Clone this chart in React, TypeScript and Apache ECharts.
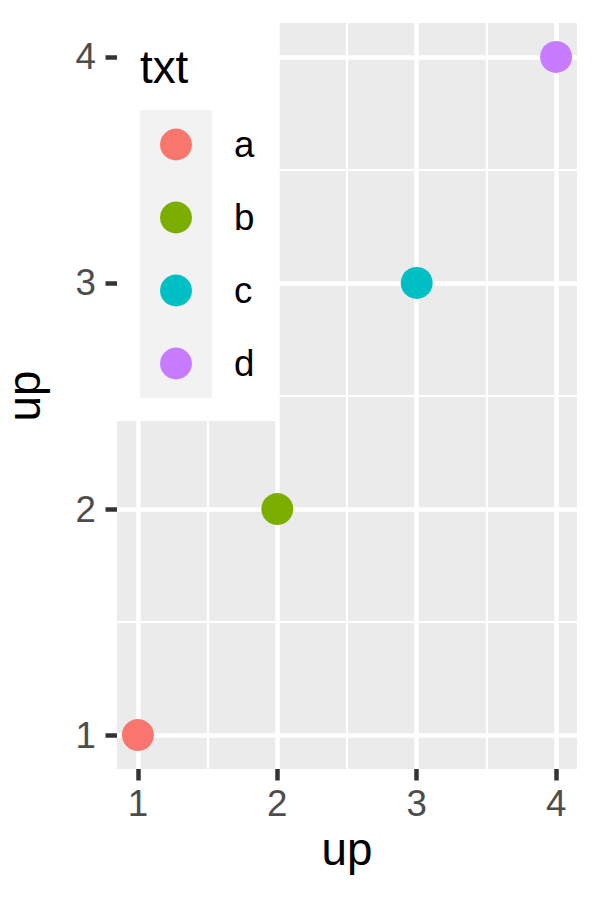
import React, { useEffect, useRef } from "react";
import * as echarts from "echarts";

const categories = ["a", "b", "c", "d"];
const xValues = [1, 2, 3, 4];
const yValues = [1, 2, 3, 4];
const colors = ["#F8766D", "#7CAE00", "#00BFC4", "#C77CFF"];
const majorTicks = [1, 2, 3, 4];
const minorTicks = [1.5, 2.5, 3.5];
const xTitle = "up";
const yTitle = "up";
const legendTitle = "txt";

const FONT = "'Liberation Sans', Arial, sans-serif";

export default function App() {
  const ref = useRef<HTMLDivElement>(null);
  useEffect(() => {
    if (!ref.current) return;
    const chart = echarts.init(ref.current, undefined, { renderer: "svg" });
    const gridPos = { left: 117, top: 23, width: 460, height: 746 };
    const baseAxis = (isX: boolean) => ({
      type: "value",
      position: isX ? "bottom" : "left",
      min: 0.85,
      max: 4.15,
      axisLine: { show: false },
      axisTick: {
        show: true,
        length: 11.5,
        customValues: majorTicks,
        lineStyle: { color: "#333333", width: 4.5 },
      },
      axisLabel: {
        show: true,
        customValues: majorTicks,
        color: "#4D4D4D",
        fontSize: 36.7,
        fontFamily: FONT,
        margin: isX ? 16 : 21,
        formatter: (v: number) => String(v),
      },
      splitLine: { show: true, lineStyle: { color: "#FFFFFF", width: 4.5 } },
      name: isX ? xTitle : yTitle,
      nameLocation: "middle",
      nameGap: isX ? 56 : 70,
      nameRotate: isX ? 0 : 90,
      nameTextStyle: { color: "#000000", fontSize: 45.8, fontFamily: FONT },
    });
    const minorAxis = (isX: boolean) => ({
      type: "value",
      position: isX ? "bottom" : "left",
      min: 0.85,
      max: 4.15,
      axisLine: { show: false },
      axisTick: { show: false, customValues: minorTicks },
      axisLabel: { show: false, customValues: minorTicks },
      splitLine: { show: true, lineStyle: { color: "#FFFFFF", width: 2.2 } },
    });
    chart.setOption({
      animation: false,
      grid: {
        ...gridPos,
        show: true,
        backgroundColor: "#EBEBEB",
        borderWidth: 0,
        containLabel: false,
        outerBoundsMode: "none",
      },
      xAxis: [minorAxis(true), baseAxis(true)],
      yAxis: [minorAxis(false), baseAxis(false)],
      legend: {
        orient: "vertical",
        left: 160,
        top: 126,
        padding: 0,
        itemWidth: 32,
        itemHeight: 32,
        itemGap: 36,
        icon: "circle",
        selectedMode: false,
        z: 10,
        data: categories,
        textStyle: {
          color: "#000000",
          fontSize: 36.7,
          fontFamily: FONT,
          lineHeight: 32,
          padding: [0, 0, 0, 37],
        },
      },
      graphic: [
        {
          type: "rect",
          z: 5,
          shape: { x: 117, y: 0, width: 162, height: 421 },
          style: { fill: "#FFFFFF" },
        },
        {
          type: "rect",
          z: 6,
          shape: { x: 140, y: 110, width: 72, height: 288 },
          style: { fill: "#F2F2F2" },
        },
        {
          type: "text",
          z: 6,
          x: 140,
          y: 67,
          style: {
            text: legendTitle,
            fill: "#000000",
            fontSize: 45.8,
            fontFamily: FONT,
            verticalAlign: "middle",
            align: "left",
          },
        },
      ],
      series: categories.map((c, i) => ({
        type: "scatter",
        name: c,
        xAxisIndex: 1,
        yAxisIndex: 1,
        symbol: "circle",
        symbolSize: 32,
        itemStyle: { color: colors[i], opacity: 1 },
        emphasis: { disabled: true },
        data: [[xValues[i], yValues[i]]],
      })),
    });
    return () => chart.dispose();
  }, []);
  return (
    <div
      ref={ref}
      style={{ position: "absolute", left: 0, top: 0, width: 600, height: 900, background: "#FFFFFF" }}
    />
  );
}
